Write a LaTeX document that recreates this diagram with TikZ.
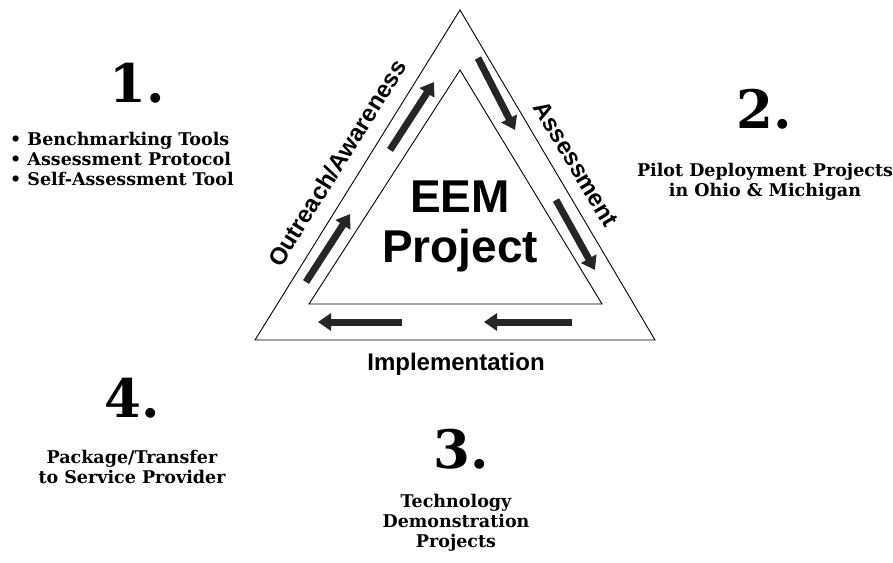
\documentclass[tikz,border=0pt]{standalone}
\usepackage{fontspec}
\setmainfont{DejaVu Serif}
\setsansfont{Liberation Sans}
\usetikzlibrary{arrows.meta}

\tikzset{
  phase/.style={font=\sffamily\bfseries\fontsize{24}{26}\selectfont, inner sep=0pt},
  stepnum/.style={font=\bfseries\fontsize{53}{55}\selectfont, inner sep=0pt},
  steptext/.style={font=\bfseries\fontsize{17.5}{20}\selectfont, inner sep=0pt, align=center},
  cyclearrow/.style={draw=black!85, line width=7pt,
    -{Triangle[length=13pt,width=17pt]}},
}

\begin{document}
\begin{tikzpicture}[x=1pt, y=-1pt]
  \useasboundingbox (0,0) rectangle (893,562);

  % outer and inner triangle
  \coordinate (top) at (460,10);
  \coordinate (bl) at (255,340);
  \coordinate (br) at (655,340);
  \coordinate (itop) at (460,70);
  \coordinate (ibl) at (309,304);
  \coordinate (ibr) at (602,304);
  \draw[line width=0.9pt] (top) -- (br) -- (bl) -- cycle;
  \draw[line width=0.9pt] (itop) -- (ibr) -- (ibl) -- cycle;

  % arrows running round the cycle
  \coordinate (a1s) at (306,282);  \coordinate (a1e) at (350,214);
  \coordinate (a2s) at (390,150);  \coordinate (a2e) at (434,82);
  \coordinate (a3s) at (478,58);   \coordinate (a3e) at (515,130);
  \coordinate (a4s) at (556,200);  \coordinate (a4e) at (595,270);
  \coordinate (a5s) at (572,322);  \coordinate (a5e) at (484,322);
  \coordinate (a6s) at (402,322);  \coordinate (a6e) at (318,322);
  \foreach \s/\e in {a1s/a1e, a2s/a2e, a3s/a3e, a4s/a4e, a5s/a5e, a6s/a6e}
    \draw[cyclearrow] (\s) -- (\e);

  % labels on the sides
  \node[phase, rotate=58] (outreach) at (337,163) {Outreach/Awareness};
  \node[phase, rotate=-59] (assess) at (576,164) {Assessment};
  \node[phase] (implement) at (456,364) {Implementation};

  \node[font=\sffamily\bfseries\fontsize{46}{50}\selectfont, align=center, inner sep=0pt]
    (eem) at (460,226) {EEM\\Project};

  % numbered steps
  \node[stepnum] (num1) at (137,83) {1.};
  \node[steptext, align=left, anchor=west] (list1) at (10,159)
    {• Benchmarking Tools\\• Assessment Protocol\\• Self-Assessment Tool};

  \node[stepnum] (num2) at (764,109) {2.};
  \node[steptext] (text2) at (765,182) {Pilot Deployment Projects\\in Ohio \& Michigan};

  \node[stepnum] (num3) at (461,449) {3.};
  \node[steptext] (text3) at (456,523) {Technology\\Demonstration\\Projects};

  \node[stepnum] (num4) at (132,398) {4.};
  \node[steptext] (text4) at (132,467) {Package/Transfer\\to Service Provider};
\end{tikzpicture}
\end{document}
